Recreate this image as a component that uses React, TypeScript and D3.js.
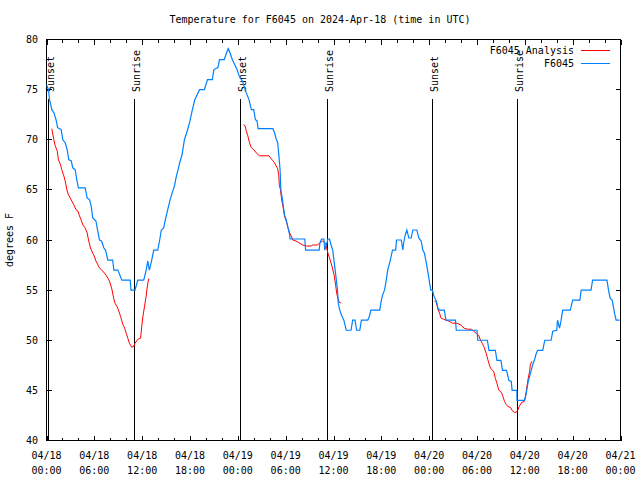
import { useEffect, useRef } from "react";
import * as d3 from "d3";

// hours after 2024-04-18 00:00 UTC, degrees F
const stationObs: [number, number][] = [
  [0, 75.5], [0.25, 75], [0.38, 74], [0.67, 73], [0.92, 72.7], [1.2, 72], [1.4, 71.2], [1.84, 71],
  [2.05, 70], [2.34, 69.7], [2.6, 69], [2.8, 68], [3.1, 67.9], [3.3, 67.2], [3.6, 67], [3.8, 66],
  [4.0, 65.2], [4.85, 65.2], [5.1, 64.2], [5.4, 64], [5.6, 63.4], [5.8, 62.2], [6.2, 61.9], [6.4, 61],
  [6.65, 60], [6.9, 59.9], [7.2, 59.2], [7.4, 59], [7.7, 58], [8.3, 58], [8.45, 57], [8.95, 57],
  [9.45, 56], [10.5, 56], [10.6, 55], [11.1, 55], [11.45, 56], [12.2, 56], [12.5, 57], [12.7, 57.9],
  [12.9, 57], [13.2, 58], [13.45, 59], [13.95, 59], [14.2, 60], [14.4, 61], [14.7, 61.2], [14.9, 62],
  [15.2, 63], [15.5, 64], [15.85, 64.9], [16.05, 65.4], [16.3, 66.4], [16.5, 67], [16.7, 67.7],
  [17.0, 68.5], [17.3, 70], [17.5, 70.5], [17.7, 71], [18.0, 71.9], [18.3, 73], [18.6, 74], [19.2, 75],
  [19.8, 75], [20.2, 76], [20.8, 76], [21.0, 77], [21.5, 77.2], [21.7, 78], [22.3, 78], [22.6, 78.7],
  [22.8, 79.1], [23.0, 78.7], [23.3, 78], [23.6, 77.5], [23.9, 77], [24.2, 76.3], [24.6, 75.8],
  [25.05, 74.7], [25.4, 74], [25.7, 73], [26.0, 73], [26.2, 72], [26.4, 71.9], [26.55, 71.1],
  [28.4, 71.1], [28.6, 70.7], [28.8, 70.1], [29.0, 69.7], [29.15, 68.4], [29.3, 67], [29.4, 65],
  [29.6, 64], [29.7, 63.4], [29.85, 62.5], [30.07, 62], [30.3, 61.2], [30.5, 60.5], [30.55, 60.1],
  [32.4, 60.1], [32.5, 59], [34.2, 59], [34.3, 59.7], [34.5, 60.1], [34.8, 60.1], [34.9, 59],
  [35.1, 59.5], [35.3, 60.1], [35.5, 60.1], [35.7, 59.5], [35.9, 59], [36.1, 57.7], [36.3, 56.4],
  [36.5, 55], [36.6, 53.7], [36.75, 53.1], [37.0, 52.5], [37.3, 52], [37.6, 51], [38.2, 51],
  [38.4, 52], [38.7, 52], [38.9, 51], [39.3, 51], [39.5, 52], [40.3, 52], [40.5, 52.4], [40.7, 53],
  [41.8, 53], [42.0, 54], [42.2, 54.6], [42.4, 55], [42.6, 55.9], [42.8, 57], [43.1, 57.9], [43.4, 59],
  [43.8, 59], [43.9, 60], [44.5, 60], [44.7, 59], [44.8, 59.7], [45.0, 60.5], [45.2, 61], [45.45, 60.2],
  [45.75, 60.2], [45.95, 61], [46.45, 61], [46.7, 60.2], [47.0, 59.9], [47.2, 59], [47.4, 58.7],
  [47.6, 57.9], [47.8, 57], [48.0, 56], [48.2, 55], [48.4, 55], [48.6, 54.4], [48.9, 53.9], [49.1, 53.2],
  [49.3, 53], [49.9, 53], [50.1, 52], [51.3, 52], [51.4, 51], [54.0, 51], [54.1, 50], [55.3, 50],
  [55.5, 49], [56.3, 49], [56.5, 48], [57.0, 48], [57.2, 47], [57.7, 47], [58.0, 46], [58.3, 45.9],
  [58.4, 45], [59.0, 45], [59.02, 44], [59.95, 44], [60.2, 44.8], [60.4, 45.8], [60.6, 46.4], [60.8, 47],
  [61.0, 47.6], [61.2, 48], [61.4, 48.6], [61.6, 49], [62.25, 49], [62.5, 50], [63.3, 50], [63.5, 50.9],
  [64.0, 51], [64.1, 52], [64.35, 51.2], [64.55, 52], [64.75, 53], [65.7, 53], [66.0, 54], [66.9, 54],
  [67.07, 55], [68.3, 55], [68.5, 56], [70.3, 56], [70.5, 55], [70.7, 54.2], [70.95, 54], [71.1, 53.4],
  [71.25, 52.7], [71.45, 52], [71.9, 52],
];

const analysisNight1: [number, number][] = [
  [0.67, 71.1], [0.92, 70], [1.09, 69.4], [1.34, 68.9], [1.5, 68], [1.76, 67.5], [1.92, 67], [2.17, 66.4],
  [2.34, 65.9], [2.59, 64.9], [2.76, 64.5], [3.1, 64], [3.43, 63.5], [3.72, 63], [3.93, 62.9], [4.14, 62.4],
  [4.35, 62], [4.56, 61.5], [4.85, 61.2], [5.1, 60.7], [5.27, 60], [5.52, 59.2], [5.8, 58.7], [6.0, 58.4],
  [6.2, 57.9], [6.4, 57.6], [6.65, 57.2], [7.06, 56.9], [7.36, 56.6], [7.7, 56.2], [7.9, 55.9], [8.2, 55.1],
  [8.45, 54.1], [8.6, 53.7], [8.95, 53.2], [9.28, 52.4], [9.57, 51.6], [9.8, 51.2], [10.0, 50.7],
  [10.2, 50.2], [10.4, 49.7], [10.7, 49.3], [10.95, 49.4], [11.1, 49.7], [11.45, 50.1], [11.8, 50.2],
  [11.95, 51.4], [12.1, 52.4], [12.3, 53.4], [12.5, 54.4], [12.6, 55.1], [12.8, 56.1], [12.9, 56.1],
];

const analysisNight2: [number, number][] = [
  [24.7, 71.5], [24.9, 71.4], [25.05, 70.9], [25.25, 70.4], [25.46, 69.7], [25.7, 69.2], [26.0, 69],
  [26.3, 68.7], [26.7, 68.4], [27.9, 68.4], [28.2, 68.1], [28.4, 67.9], [28.6, 67.7], [28.8, 67.4],
  [29.0, 67.1], [29.14, 66.4], [29.2, 65.5], [29.35, 65], [29.5, 64], [29.65, 63.4], [29.85, 62.4],
  [30.07, 61.9], [30.3, 61.2], [30.5, 60.7], [30.7, 60.4], [30.9, 60], [31.3, 59.9], [31.7, 59.7],
  [32.15, 59.5], [32.6, 59.4], [33.2, 59.4], [33.4, 59.5], [34.0, 59.5], [34.25, 59.7], [34.65, 59.9],
  [35.0, 59.7], [35.2, 59], [35.3, 58.7], [35.5, 58.2], [35.7, 57.7], [35.9, 57.1], [36.1, 56.4],
  [36.25, 55.6], [36.4, 54.7], [36.55, 54.2], [36.7, 53.8], [36.95, 53.7],
];

const analysisNight3: [number, number][] = [
  [48.67, 53.9], [48.9, 53.8], [49.1, 53.1], [49.3, 52.7], [49.5, 52.2], [49.8, 52.1], [50.1, 52],
  [50.5, 51.9], [50.9, 51.7], [51.5, 51.7], [52.0, 51.5], [52.4, 51.2], [52.85, 51.1], [53.3, 51.1],
  [53.6, 50.9], [53.9, 50.7], [54.2, 50.5], [54.4, 50.1], [54.65, 49.7], [54.9, 49.3], [55.15, 48.7],
  [55.35, 48.1], [55.6, 47.4], [55.8, 47.1], [56.1, 46.9], [56.3, 46.2], [56.5, 45.7], [56.75, 45.0],
  [57.05, 44.8], [57.25, 44.4], [57.45, 43.9], [57.66, 43.6], [57.86, 43.4], [58.2, 43.3], [58.4, 43.0],
  [58.7, 42.8], [58.9, 42.8], [59.1, 43.0], [59.3, 43.4], [59.6, 43.8], [59.95, 43.9], [60.1, 44.4],
  [60.25, 45.3], [60.4, 46.1], [60.6, 46.9], [60.7, 47.6], [60.9, 47.9],
];

const sunsets = [0.19, 24.33, 48.32];
const sunrises = [11.01, 35.15, 59.06];
const yTicks = [40, 45, 50, 55, 60, 65, 70, 75, 80];

const FONT = "'DejaVu Sans Mono', monospace";
const start = Date.UTC(2024, 3, 18);
const toDate = (h: number) => new Date(start + h * 3600 * 1000);

export default function App() {
  const svgRef = useRef<SVGSVGElement>(null);

  useEffect(() => {
    if (!svgRef.current) return;
    const svg = d3.select(svgRef.current);
    svg.selectAll("*").remove();

    const left = 46.5, right = 620.5, top = 39.5, bottom = 440.5;

    const x = d3.scaleUtc().domain([toDate(0), toDate(72)]).range([left, right]);
    const y = d3.scaleLinear().domain([40, 80]).range([bottom, top]);

    svg.append("rect").attr("width", 640).attr("height", 480).attr("fill", "#fff");

    // title
    svg.append("text")
      .attr("x", 320).attr("y", 23)
      .attr("text-anchor", "middle")
      .attr("font-family", FONT).attr("font-size", "10px")
      .text("Temperature for F6045 on 2024-Apr-18 (time in UTC)");

    const axes = svg.append("g").attr("stroke", "#000").attr("shape-rendering", "crispEdges");

    // y ticks, both sides
    yTicks.forEach((t) => {
      axes.append("line").attr("x1", left).attr("x2", left + 5).attr("y1", y(t)).attr("y2", y(t));
      axes.append("line").attr("x1", right).attr("x2", right - 5).attr("y1", y(t)).attr("y2", y(t));
    });
    svg.append("g")
      .selectAll("text")
      .data(yTicks)
      .join("text")
      .attr("x", 38)
      .attr("y", (d) => y(d) + 3.5)
      .attr("text-anchor", "end")
      .attr("font-family", FONT).attr("font-size", "10px")
      .text((d) => d);

    // x ticks: major every 6h, minor every 2h, mirrored on top
    const minor = d3.range(0, 73, 2);
    minor.forEach((h) => {
      const len = h % 6 === 0 ? 5 : 3;
      const xx = Math.round(x(toDate(h))) + 0.5;
      axes.append("line").attr("x1", xx).attr("x2", xx).attr("y1", bottom).attr("y2", bottom - len);
      axes.append("line").attr("x1", xx).attr("x2", xx).attr("y1", top).attr("y2", top + len);
    });
    const major = d3.range(0, 73, 6);
    const fmtDay = d3.utcFormat("%m/%d");
    const fmtTime = d3.utcFormat("%H:%M");
    const xl = svg.append("g").attr("font-family", FONT).attr("font-size", "10px").attr("text-anchor", "middle");
    major.forEach((h) => {
      const d = toDate(h);
      xl.append("text").attr("x", x(d)).attr("y", 459).text(fmtDay(d));
      xl.append("text").attr("x", x(d)).attr("y", 474).text(fmtTime(d));
    });

    // frame
    axes.append("rect")
      .attr("x", left).attr("y", top)
      .attr("width", right - left).attr("height", bottom - top)
      .attr("fill", "none");

    // y label
    svg.append("text")
      .attr("transform", `translate(13,240) rotate(-90)`)
      .attr("text-anchor", "middle")
      .attr("font-family", FONT).attr("font-size", "10px")
      .text("degrees F");

    // sunrise / sunset markers
    const sunEvents = [
      ...sunsets.map((h) => ({ h, label: "Sunset" })),
      ...sunrises.map((h) => ({ h, label: "Sunrise" })),
    ];
    sunEvents.forEach((e) => {
      const xx = Math.round(x(toDate(e.h))) + 0.5;
      svg.append("line")
        .attr("x1", xx).attr("x2", xx)
        .attr("y1", 99).attr("y2", bottom)
        .attr("stroke", "#000")
        .attr("shape-rendering", "crispEdges");
      svg.append("text")
        .attr("transform", `translate(${xx + 5},92) rotate(-90)`)
        .attr("text-anchor", "start")
        .attr("font-family", FONT).attr("font-size", "10px")
        .text(e.label);
    });

    const line = d3.line<[number, number]>()
      .x((d) => x(toDate(d[0])))
      .y((d) => y(d[1]));

    [analysisNight1, analysisNight2, analysisNight3].forEach((seg) => {
      svg.append("path")
        .attr("d", line(seg))
        .attr("fill", "none")
        .attr("stroke", "#ff0000")
        .attr("stroke-width", 1);
    });

    svg.append("path")
      .attr("d", line(stationObs))
      .attr("fill", "none")
      .attr("stroke", "#0080ff")
      .attr("stroke-width", 1.2);

    // legend
    const legend = [
      { label: "F6045 Analysis", color: "#ff0000", y: 50 },
      { label: "F6045", color: "#0080ff", y: 63 },
    ];
    legend.forEach((l) => {
      svg.append("text")
        .attr("x", 574).attr("y", l.y + 3.5)
        .attr("text-anchor", "end")
        .attr("font-family", FONT).attr("font-size", "10px")
        .text(l.label);
      svg.append("line")
        .attr("x1", 581).attr("x2", 610)
        .attr("y1", l.y + 0.5).attr("y2", l.y + 0.5)
        .attr("stroke", l.color)
        .attr("shape-rendering", "crispEdges");
    });
  }, []);

  return (
    <svg
      ref={svgRef}
      width={640}
      height={480}
      style={{ position: "absolute", left: 0, top: 0 }}
    />
  );
}
